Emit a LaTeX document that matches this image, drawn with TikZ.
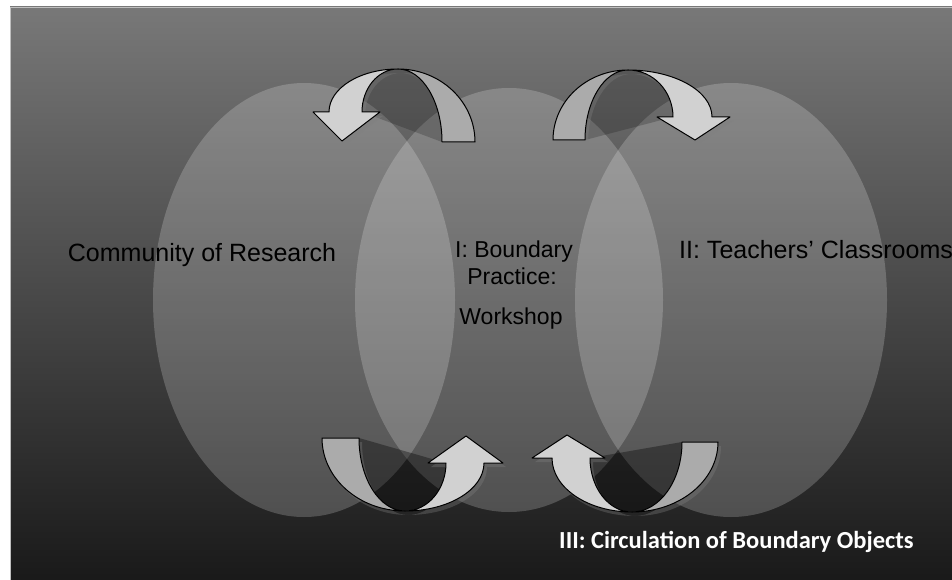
\documentclass[tikz,border=0pt]{standalone}
\usepackage{fontspec}
\setmainfont{Liberation Sans}
\newfontfamily\captionfont{Carlito}
\usetikzlibrary{shadows}

\tikzset{
	venn/.style={fill=white, fill opacity=0.2},
	archshade/.style={fill=black, fill opacity=#1},
	backhalf/.style={draw=black, line width=1pt, line join=round, fill=black!33,
		drop shadow={shadow xshift=3pt, shadow yshift=-4pt, opacity=0.35}},
	fronthalf/.style={draw=black, line width=1pt, line join=round, fill=black!18,
		drop shadow={shadow xshift=3pt, shadow yshift=-4pt, opacity=0.35}},
	bigtext/.style={font=\fontsize{25}{30}\selectfont, inner sep=0pt, anchor=base},
	midtext/.style={font=\fontsize{23}{27}\selectfont, inner sep=0pt, anchor=base},
	foottext/.style={font=\captionfont\bfseries\fontsize{24.5}{28}\selectfont, text=white, inner sep=0pt, anchor=base west}
}

\begin{document}
\begin{tikzpicture}[x=1pt, y=1pt]

	\useasboundingbox (0,0) rectangle (952,-580);
	\clip (0,0) rectangle (952,-580);
	% Background %
	\fill[white] (0,0) rectangle (952,-580);
	\shade[top color=black!53, bottom color=black!90] (10,-7) rectangle (952,-580);
	\draw[black!25, line width=0.8pt] (10,-580) -- (10,-7) -- (952,-7);
	% Circles %
	\fill[venn] (304,-300) ellipse (151pt and 217pt);
	\fill[venn] (509,-300) ellipse (154pt and 212pt);
	\fill[venn] (731,-300) ellipse (156pt and 217pt);
	% Top left arrow %
	\fill[archshade=0.2] (362,-112) arc (180:90:36pt and 43pt) arc (90:0:44pt and 73pt) -- cycle;
	\draw[backhalf] (442,-142) -- (475,-142) arc (0:90:77pt and 73pt) arc (90:0:44pt and 73pt) -- cycle;
	\draw[fronthalf] (398,-69) arc (90:180:69pt and 43pt) -- (313,-112) -- (342,-141) -- (380,-112) -- (362,-112) arc (180:90:36pt and 43pt) -- cycle;
	% Top right arrow %
	\fill[archshade=0.2] (585,-140) arc (180:90:43pt and 70pt) arc (90:0:45pt and 47pt) -- cycle;
	\draw[backhalf] (585,-140) -- (553,-140) arc (180:90:75pt and 70pt) arc (90:180:43pt and 70pt) -- cycle;
	\draw[fronthalf] (628,-70) arc (90:0:84pt and 47pt) -- (730,-117) -- (695,-140) -- (657,-117) -- (673,-117) arc (0:90:45pt and 47pt) -- cycle;
	% Bottom left arrow %
	\fill[archshade=0.35] (359,-438) arc (180:270:46pt and 73pt) arc (270:360:41pt and 48pt) -- cycle;
	\draw[backhalf] (359,-438) -- (322,-438) arc (180:270:83pt and 73pt) arc (270:180:46pt and 73pt) -- cycle;
	\draw[fronthalf] (405,-511) arc (270:360:79pt and 48pt) -- (503,-463) -- (466,-436) -- (428,-463) -- (446,-463) arc (360:270:41pt and 48pt) -- cycle;
	% Bottom right arrow %
	\fill[archshade=0.35] (590,-458) arc (180:270:42pt and 54pt) arc (270:360:50pt and 70pt) -- cycle;
	\draw[backhalf] (682,-442) -- (718,-442) arc (0:-90:86pt and 70pt) arc (-90:0:50pt and 70pt) -- cycle;
	\draw[fronthalf] (632,-512) arc (270:180:80pt and 54pt) -- (532,-458) -- (567,-435) -- (605,-458) -- (590,-458) arc (180:270:42pt and 54pt) -- cycle;
	% Labels %
	\node[bigtext] (research) at (202,-261) {Community of Research};
	\node[bigtext, anchor=base west] (classrooms) at (679,-258) {II: Teachers’ Classrooms};
	\node[midtext] (boundary) at (514,-257) {I: Boundary};
	\node[midtext] (practice) at (512,-284) {Practice:};
	\node[midtext] (workshop) at (511,-324) {Workshop};
	\node[foottext] (circulation) at (559,-548) {III: Circulation of Boundary Objects};
\end{tikzpicture}
\end{document}
